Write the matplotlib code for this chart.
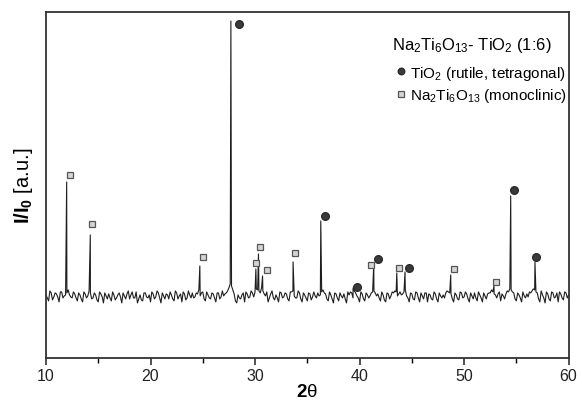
import matplotlib
matplotlib.use("Agg")
import matplotlib.pyplot as plt
import numpy as np

plt.rcParams['font.family'] = ['Liberation Sans', 'DejaVu Sans']
plt.rcParams['mathtext.fontset'] = 'custom'
plt.rcParams['mathtext.rm'] = 'Liberation Sans'
plt.rcParams['mathtext.it'] = 'Liberation Sans:italic'
plt.rcParams['mathtext.bf'] = 'Liberation Sans:bold'

# baseline intensity, sampled every 0.25 deg from 10 to 60 (a.u.)
fundo = [
    1, -5, 3, -1,   2, -6, 4, 0,    3, 1, -2, 2,    -5, 1, -6, 2,
    0, 3, -2, 1,    -6, 2, -7, 0,   2, -5, 1, -2,   3, -7, 0, 2,
    -3, 4, -2, -7,  1, -5, 3, -2,   -6, 2, -1, 3,   -7, 0, 2, -3,
    1, -5, 3, 0,    -6, 2, -2, 1,   3, -1, 2, 0,    4, -5, 1, -3,
    2, -6, 3, -1,   0, 3, 8, 10,    2, -7, -2, 1,   -6, 2, -1, 3,
    4, 6, 3, 5,     0, -6, 2, -2,   1, -6, 3, -1,   2, -5, 4, 0,
    -2, 3, -6, 1,   -5, 2, -1, 0,   3, 1, 6, 2,     -5, 1, -7, 2,
    -5, 0, 2, -7,   1, 3, 5, 0,     -6, 2, -5, 1,   0, 4, 3, 2,
    -5, 1, -6, 2,   0, 3, 4, 2,     1, 4, 0, -6,    2, -4, 3, -6,
    0, 3, -6, 1,    -4, 2, -6, 0,   1, 3, 4, 2,     -6, 1, -4, 3,
    -1, 2, -6, 0,   3, -5, 1, -6,   0, 2, 3, 4,     1, 2, -5, 0,
    2, 4, 6, 3,     -5, 1, -6, 0,   2, 4, 5, 6,     3, -6, 1, -7,
    2, -5, 3, -1,   -6, 2, -4, 3,   1,
]
# baseline in between, at 10.125, 10.375, ... 59.875
fundo_meio = [
    -2, 5, -4, 3,   -1, 4, -2, 1,   6, -1, 4, -2,   3, -3, 4, -2,
    5, -3, 3, -4,   4, -1, 3, -3,   -2, 4, -4, 1,   -1, 3, -3, 5,
    1, -2, 4, -3,   -4, 3, -1, 1,   4, -3, 5, -2,   3, -3, 1, 4,
    -3, 5, -3, 2,   4, -4, 5, -2,   -2, 3, 6, 3,    -3, 4, -2, 3,
    -2, 3, -3, 5,   2, 5, 12, 6,    -5, 1, -3, 3,   4, -2, 5, -1,
    7, 5, 8, 2,     4, -2, 5, -4,   -2, 4, -2, 3,   -3, 4, 5, -2,
    5, -3, 3, -2,   3, -4, 4, -2,   0, 4, 3, -3,    4, -3, 3, -2,
    3, -2, -3, 4,   4, -2, 3, -2,   4, -3, 3, -2,   3, 5, 0, -2,
    4, -4, 3, -3,   4, 5, 0, 4,     2, 6, -2, 3,    -3, 4, -2, 3,
    -3, 3, 2, -3,   4, -3, 3, -2,   -2, 5, 3, -3,   3, -3, 4, -2,
    4, -3, 3, -3,   -2, 4, -2, 3,   -3, 3, 6, 2,    -2, 4, 2, -3,
    5, 7, 4, -3,    3, -2, 4, -2,   -1, 3, 7, 4,    -3, 5, -2, 4,
    -3, 4, -2, 3,   4, -2, 4, -2,
]
passo = 0.25

# diffraction peaks (2theta, intensity above baseline)
picos_2t = [11.98, 14.24, 24.72, 27.69, 30.08, 30.33, 30.72, 33.64, 36.29,
            39.38, 41.36, 43.56, 44.35, 48.72, 52.86, 54.46, 56.78]
picos_I = [114, 61, 30, 275, 27, 42, 20, 34, 75, 8, 32, 23, 24, 21, 10, 100, 34]

# phase markers
rutilo_2t = [28.45, 36.67, 39.76, 41.74, 44.70, 54.77, 56.87]
rutilo_I = [272, 80, 9, 37, 28, 106, 39]
nto_2t = [12.27, 14.40, 25.01, 30.08, 30.46, 31.13, 33.83, 41.14, 43.75, 49.04, 53.09]
nto_I = [121, 72, 39, 33, 49, 26, 43, 31, 28, 27, 14]

x_fundo = 10 + passo * np.arange(len(fundo))
x_meio = 10 + passo / 2 + passo * np.arange(len(fundo_meio))
x = np.concatenate([x_fundo, x_meio, picos_2t])
y = np.concatenate([fundo, fundo_meio, picos_I])
ordem = np.argsort(x, kind='stable')
x, y = x[ordem], y[ordem]

fig = plt.figure(figsize=(5.82, 4.06), dpi=100)
ax = fig.add_axes([0.079, 0.116, 0.898, 0.852])

ax.plot(x, y, color='#1e1e1e', lw=0.8)
ax.plot(rutilo_2t, rutilo_I, 'o', ms=5.5, color='#3a3a3a', mec='#2a2a2a',
        label='TiO$_2$ (rutile, tetragonal)')
ax.plot(nto_2t, nto_I, 's', ms=5, mfc='#d4d4d4', mec='#555555', mew=0.9,
        label='Na$_2$Ti$_6$O$_{13}$ (monoclinic)')

ax.set_xlim(10, 60)
ax.set_ylim(-62, 284)
ax.set_yticks([])
ax.set_xticks(range(10, 61, 10))
ax.set_xticks(range(15, 60, 10), minor=True)
ax.tick_params(axis='x', which='major', length=5, width=1.1, labelsize=11.5,
               colors='#222222', pad=2)
ax.tick_params(axis='x', which='minor', length=3.5, width=1.0)
for s in ax.spines.values():
    s.set_linewidth(1.3)
    s.set_color('#333333')

ax.set_xlabel(r'$\mathbf{2}$θ', fontsize=13.5, labelpad=0)
ax.set_ylabel(r'$\mathbf{I/I_0}$ [a.u.]', fontsize=14.5, labelpad=8)

ax.text(0.663, 0.905, 'Na$_2$Ti$_6$O$_{13}$- TiO$_2$ (1:6)', transform=ax.transAxes,
        fontsize=12, ha='left', va='center')
ax.legend(loc='upper right', bbox_to_anchor=(1.0, 0.855), frameon=False,
          fontsize=11, handlelength=0.5, handletextpad=0.35, labelspacing=0.3,
          borderaxespad=0, borderpad=0.1, markerscale=0.85)

fig.savefig('out.png', dpi=100)
